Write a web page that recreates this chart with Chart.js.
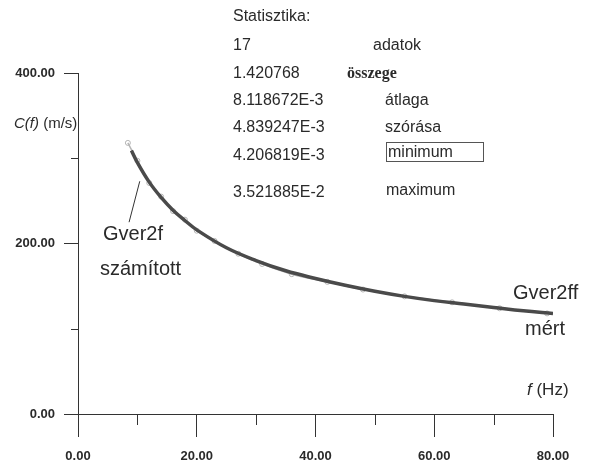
<!DOCTYPE html>
<html><head><meta charset="utf-8">
<script src="https://cdn.jsdelivr.net/npm/chart.js@4"></script>
<style>
html,body{margin:0;padding:0;background:#fff}
#wrap{position:relative;width:594px;height:471px;font-family:"Liberation Sans",Arial,sans-serif;color:#2a2a2a;overflow:hidden}
canvas{position:absolute;left:0;top:0}
.t{position:absolute;white-space:nowrap;line-height:1}
.s{font-size:16px}
.b{font-size:20px}
</style></head><body>
<div id="wrap">
<canvas id="c" width="594" height="471"></canvas>
<div class="t s" style="left:233px;top:8px">Statisztika:</div>
<div class="t s" style="left:233px;top:37px">17</div>
<div class="t s" style="left:373px;top:37px">adatok</div>
<div class="t s" style="left:233px;top:65px">1.420768</div>
<div class="t" style="left:347px;top:65px;font-family:'Liberation Serif',serif;font-weight:bold;font-size:16px">összege</div>
<div class="t s" style="left:233px;top:92px">8.118672E-3</div>
<div class="t s" style="left:385px;top:92px">átlaga</div>
<div class="t s" style="left:233px;top:119px">4.839247E-3</div>
<div class="t s" style="left:385px;top:119px">szórása</div>
<div class="t s" style="left:233px;top:147px">4.206819E-3</div>
<div class="t s" style="left:386px;top:142px;width:98px;height:20px;border:1px solid #555;box-sizing:border-box;padding:1px 0 0 1px">minimum</div>
<div class="t s" style="left:233px;top:184px">3.521885E-2</div>
<div class="t s" style="left:386px;top:182px">maximum</div>
<div class="t" style="left:14px;top:115px;font-size:15px"><i>C(f)</i> (m/s)</div>
<div class="t b" style="left:103px;top:223px">Gver2f</div>
<div class="t b" style="left:100px;top:258px">számított</div>
<div class="t b" style="left:513px;top:282px">Gver2ff</div>
<div class="t b" style="left:525px;top:318px">mért</div>
<div class="t" style="left:527px;top:381px;font-size:17px"><i>f</i> (Hz)</div>
</div>
<script>
const freqComputed = [9, 10, 12, 14, 16, 18, 20, 25, 30, 35, 40, 45, 50, 55, 60, 65, 70, 75, 80];
const cComputed    = [309, 295, 272, 254, 239, 227, 216, 195, 180, 168, 159, 151, 144, 138, 133, 129, 125, 121, 118];
const freqMeasured = [8.4, 10, 12, 14, 16, 18, 20, 23, 27, 31, 36, 42, 48, 55, 63, 71, 79];
const cMeasured    = [318, 297, 271, 255, 238, 228, 215, 203, 188, 176, 164, 155, 146, 138, 131, 124, 118];
const xTicks = [0, 20, 40, 60, 80];
const xMinorTicks = [10, 30, 50, 70];
const yTicks = [0, 200, 400];
const yMinorTicks = [100, 300];
const leader = [[10.4, 273], [8.6, 225]];

const AX = '#333';
const minorTicks = {
  id: 'minorTicks',
  afterDraw(chart) {
    const ctx = chart.ctx, xs = chart.scales.x, ys = chart.scales.y;
    ctx.save();
    ctx.strokeStyle = AX; ctx.lineWidth = 1;
    ctx.beginPath();
    xMinorTicks.forEach(v => { const px = Math.round(xs.getPixelForValue(v)) + 0.5; ctx.moveTo(px, ys.bottom); ctx.lineTo(px, ys.bottom + 11); });
    yMinorTicks.forEach(v => { const py = Math.round(ys.getPixelForValue(v)) + 0.5; ctx.moveTo(xs.left, py); ctx.lineTo(xs.left - 7, py); });
    ctx.moveTo(xs.getPixelForValue(leader[0][0]), ys.getPixelForValue(leader[0][1]));
    ctx.lineTo(xs.getPixelForValue(leader[1][0]), ys.getPixelForValue(leader[1][1]));
    ctx.stroke();
    ctx.restore();
  }
};

new Chart(document.getElementById('c'), {
  type: 'scatter',
  data: {
    datasets: [
      {
        label: 'Gver2ff mért',
        data: freqMeasured.map((f, i) => ({x: f, y: cMeasured[i]})),
        showLine: true, borderColor: 'rgba(150,150,150,0.7)', borderWidth: 1.5,
        pointRadius: 2.5, pointBorderColor: '#b5b5b5', pointBackgroundColor: 'rgba(255,255,255,0)', pointBorderWidth: 1,
        tension: 0.4, order: 2
      },
      {
        label: 'Gver2f számított',
        data: freqComputed.map((f, i) => ({x: f, y: cComputed[i]})),
        showLine: true, borderColor: '#4a4a4a', borderWidth: 3.5,
        pointRadius: 0, tension: 0.4, order: 1
      }
    ]
  },
  options: {
    responsive: false, animation: false,
    layout: {padding: {left: 0, right: 41, top: 73, bottom: 0}},
    plugins: {legend: {display: false}, tooltip: {enabled: false}},
    scales: {
      x: {
        type: 'linear', min: 0, max: 80,
        afterBuildTicks: s => { s.ticks = xTicks.map(v => ({value: v})); },
        afterFit: s => { s.height = 57; },
        grid: {drawOnChartArea: false, drawTicks: true, tickLength: 23, color: AX},
        border: {display: true, color: AX, width: 1},
        ticks: {padding: 12, color: '#2a2a2a', font: {family: 'Liberation Sans', size: 13, weight: 'bold'}, callback: v => v.toFixed(2), maxRotation: 0}
      },
      y: {
        type: 'linear', min: 0, max: 400,
        afterBuildTicks: s => { s.ticks = yTicks.map(v => ({value: v})); },
        afterFit: s => { s.width = 78; },
        grid: {drawOnChartArea: false, drawTicks: true, tickLength: 14, color: AX},
        border: {display: true, color: AX, width: 1},
        ticks: {padding: 9, color: '#2a2a2a', font: {family: 'Liberation Sans', size: 13, weight: 'bold'}, callback: v => v.toFixed(2)}
      }
    }
  },
  plugins: [minorTicks]
});
</script>
</body></html>
